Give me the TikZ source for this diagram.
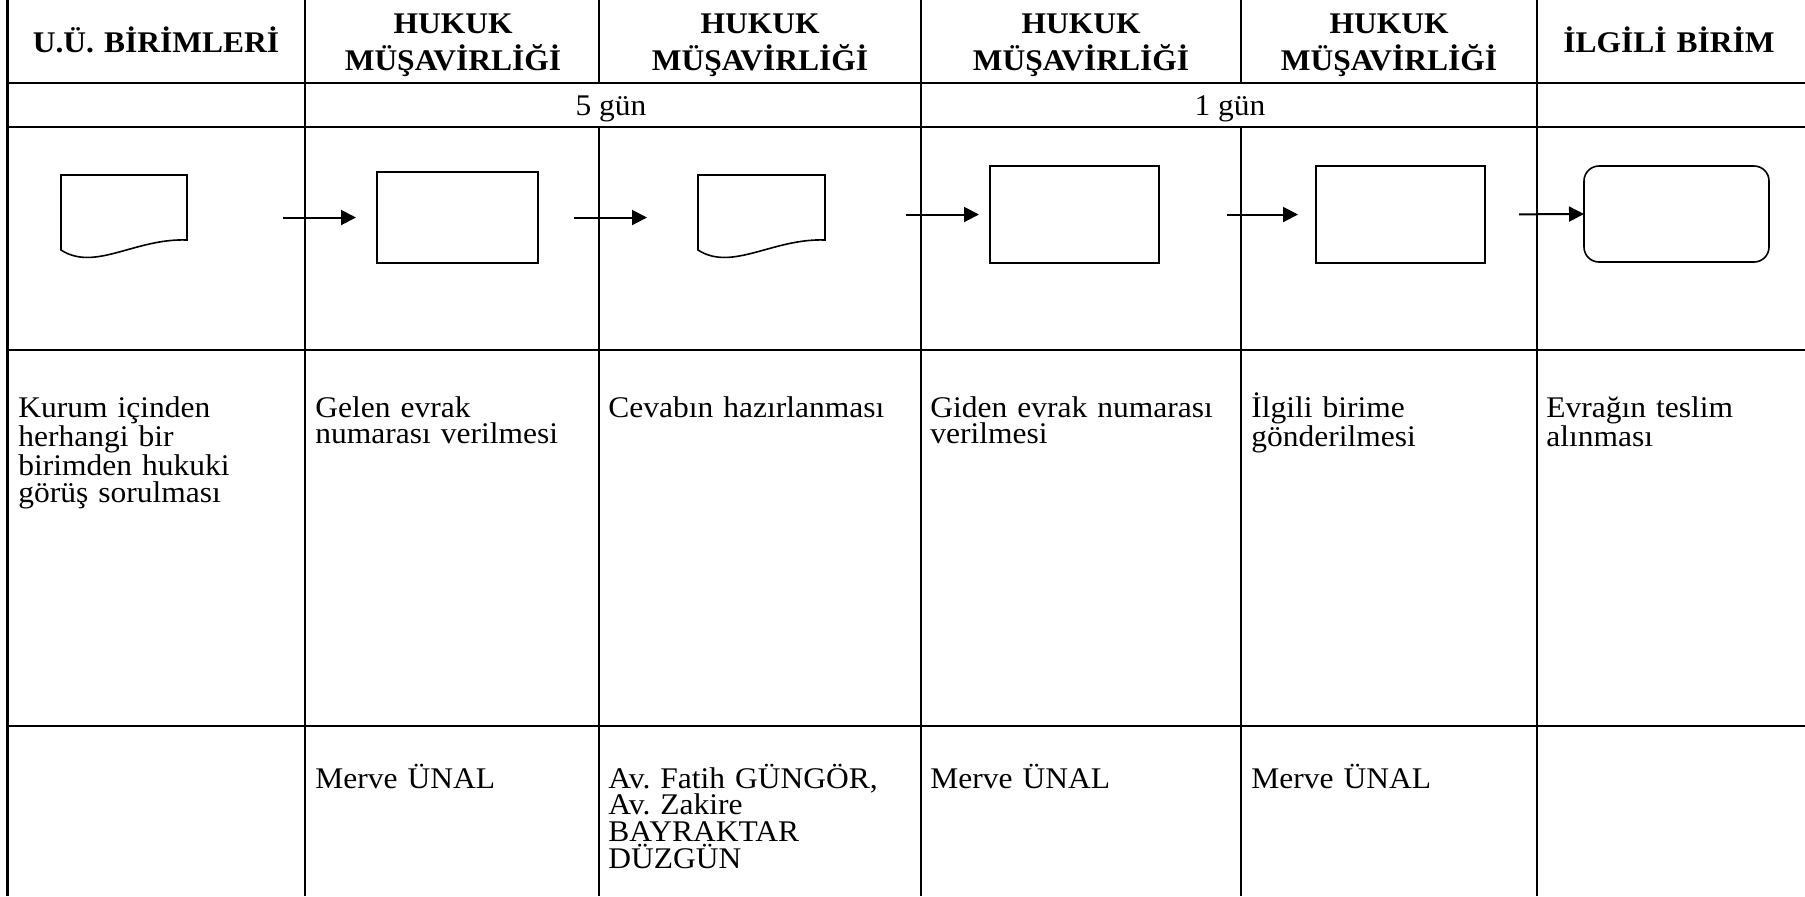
\documentclass[tikz,border=0pt]{standalone}
\usepackage{fontspec}
\setmainfont[FakeStretch=1.05]{Liberation Serif}
\usetikzlibrary{arrows.meta}
\setlength{\lineskiplimit}{-20pt}
\frenchspacing

\begin{document}
\begin{tikzpicture}[x=0.5pt, y=-0.5pt]
    % Setup the styles for the chart
    \tikzset{grid line/.style={line width=1.1pt},
             head/.style={anchor=base, text width=140pt, align=center, inner sep=0pt,
                          font=\fontsize{15}{18.5}\selectfont\bfseries},
             cell/.style={anchor=base west, text width=155pt, align=left, inner sep=0pt,
                          font=\fontsize{15}{13.4}\selectfont},
             days/.style={anchor=base, inner sep=0pt, font=\fontsize{15}{18}\selectfont},
             task box/.style={draw, line width=0.8pt, inner sep=0pt, outer sep=0pt},
             doc box/.style={inner sep=0pt, outer sep=0pt,
                             minimum width=63pt, minimum height=37.5pt},
             flow/.style={-{Triangle[length=7.5pt, width=7.5pt]}, line width=1pt}}
    \useasboundingbox (0,0) rectangle (1805,896);
    % Draw the table
    \foreach \x in {7.5, 305, 921, 1537}
        \draw[grid line] (\x,0) -- (\x,896);
    \foreach \x in {599, 1241} {
        \draw[grid line] (\x,0) -- (\x,83);
        \draw[grid line] (\x,127) -- (\x,896);}
    \foreach \y in {83, 127, 350, 726}
        \draw[grid line] (7.5,\y) -- (1805,\y);
    % Header row
    \node[head] (hdr1) at (156,52) {U.Ü. BİRİMLERİ};
    \node[head] (hdr2) at (453,33) {HUKUK\\MÜŞAVİRLİĞİ};
    \node[head] (hdr3) at (760,33) {HUKUK\\MÜŞAVİRLİĞİ};
    \node[head] (hdr4) at (1081,33) {HUKUK\\MÜŞAVİRLİĞİ};
    \node[head] (hdr5) at (1389,33) {HUKUK\\MÜŞAVİRLİĞİ};
    \node[head] (hdr6) at (1669,52) {İLGİLİ BİRİM};
    % Durations
    \node[days] (dur1) at (611,115) {5 gün};
    \node[days] (dur2) at (1230,115) {1 gün};
    % Draw the flow shapes
    \node[doc box] (doc1) at (124,212.5) {};
    \node[task box, minimum width=80.5pt, minimum height=45.5pt] (box1) at (457.5,217.5) {};
    \node[doc box, minimum width=63.5pt] (doc2) at (761.5,212.5) {};
    \node[task box, minimum width=84.5pt, minimum height=48.5pt] (box2) at (1074.5,214.5) {};
    \node[task box, minimum width=84.5pt, minimum height=48.5pt] (box3) at (1400.5,214.5) {};
    \node[task box, rounded corners=7.5pt, minimum width=92.5pt,
          minimum height=48pt] (endbox) at (1676.5,214) {};
    \foreach \d in {doc1, doc2}
        \draw[line width=0.8pt] (\d.north west) -- (\d.north east) -- ++(0,65)
            .. controls +(-52,-2) and +(34,22) .. (\d.south west) -- cycle;
    % Connect the shapes with arrows
    \draw[flow, shorten <=48pt, shorten >=10.5pt] (doc1.east |- box1.west) -- (box1.west);
    \draw[flow, shorten <=18pt, shorten >=25.5pt] (box1.east) -- (box1.east -| doc2.west);
    \draw[flow, shorten <=40.5pt, shorten >=5.5pt] (doc2.east |- box2.west) -- (box2.west);
    \draw[flow, shorten <=34pt, shorten >=9pt] (box2.east) -- (box3.west);
    \draw[flow, shorten <=17pt] (box3.east) -- (endbox.west);
    % Step descriptions
    \node[cell] (desc1) at (18,417) {Kurum içinden\\herhangi bir\\birimden hukuki\\görüş sorulması};
    \node[cell] (desc2) at (315,417) {Gelen evrak\\numarası verilmesi};
    \node[cell] (desc3) at (608,417) {Cevabın hazırlanması};
    \node[cell] (desc4) at (930,417) {Giden evrak numarası\\verilmesi};
    \node[cell] (desc5) at (1251,417) {İlgili birime\\gönderilmesi};
    \node[cell] (desc6) at (1546,417) {Evrağın teslim\\alınması};
    % Responsible staff
    \node[cell] (staff2) at (315,788) {Merve ÜNAL};
    \node[cell] (staff3) at (608,788) {Av. Fatih GÜNGÖR,\\Av. Zakire\\BAYRAKTAR\\DÜZGÜN};
    \node[cell] (staff4) at (930,788) {Merve ÜNAL};
    \node[cell] (staff5) at (1251,788) {Merve ÜNAL};
\end{tikzpicture}
\end{document}
